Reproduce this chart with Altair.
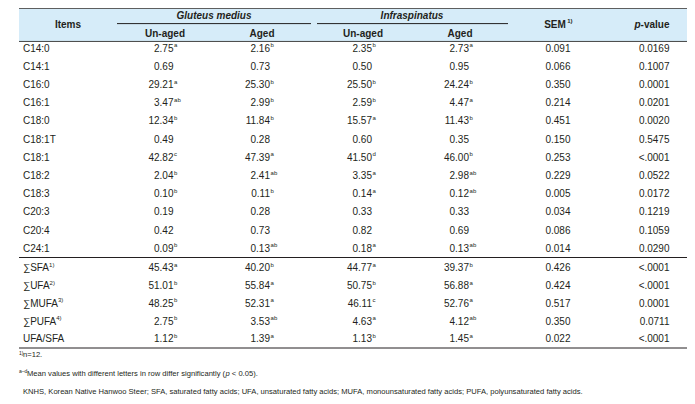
import altair as alt
import pandas as pd

# ---------------- data ----------------
items = ["C14:0", "C14:1", "C16:0", "C16:1", "C18:0", "C18:1T", "C18:1", "C18:2",
         "C18:3", "C20:3", "C20:4", "C24:1", "∑SFA", "∑UFA", "∑MUFA", "∑PUFA", "UFA/SFA"]
item_notes = ["", "", "", "", "", "", "", "", "", "", "", "", "1)", "2)", "3)", "4)", ""]

gm_unaged = ["2.75", "0.69", "29.21", "3.47", "12.34", "0.49", "42.82", "2.04", "0.10", "0.19",
             "0.42", "0.09", "45.43", "51.01", "48.25", "2.75", "1.12"]
gm_unaged_sup = ["a", "", "a", "ab", "b", "", "c", "b", "b", "", "", "b", "a", "b", "b", "b", "b"]
gm_aged = ["2.16", "0.73", "25.30", "2.99", "11.84", "0.28", "47.39", "2.41", "0.11", "0.28",
           "0.73", "0.13", "40.20", "55.84", "52.31", "3.53", "1.39"]
gm_aged_sup = ["b", "", "b", "b", "b", "", "a", "ab", "b", "", "", "ab", "b", "a", "a", "ab", "a"]
is_unaged = ["2.35", "0.50", "25.50", "2.59", "15.57", "0.60", "41.50", "3.35", "0.14", "0.33",
             "0.82", "0.18", "44.77", "50.75", "46.11", "4.63", "1.13"]
is_unaged_sup = ["b", "", "b", "b", "a", "", "d", "a", "a", "", "", "a", "a", "b", "c", "a", "b"]
is_aged = ["2.73", "0.95", "24.24", "4.47", "11.43", "0.35", "46.00", "2.98", "0.12", "0.33",
           "0.69", "0.13", "39.37", "56.88", "52.76", "4.12", "1.45"]
is_aged_sup = ["a", "", "b", "a", "b", "", "b", "ab", "ab", "", "", "ab", "b", "a", "a", "ab", "a"]
sem = ["0.091", "0.066", "0.350", "0.214", "0.451", "0.150", "0.253", "0.229", "0.005", "0.034",
       "0.086", "0.014", "0.426", "0.424", "0.517", "0.350", "0.022"]
pvalue = ["0.0169", "0.1007", "0.0001", "0.0201", "0.0020", "0.5475", "<.0001", "0.0522", "0.0172",
          "0.1219", "0.1059", "0.0290", "<.0001", "<.0001", "0.0001", "0.0711", "<.0001"]

footnote1 = "n=12."
footnote2a = "Mean values with different letters in row differ significantly ("
footnote2b = "p"
footnote2c = "< 0.05)."
footnote3 = ("KNHS, Korean Native Hanwoo Steer; SFA, saturated fatty acids; UFA, unsaturated fatty acids; "
             "MUFA, monounsaturated fatty acids; PUFA, polyunsaturated fatty acids.")

# ---------------- layout ----------------
W, H = 679, 396
FONT = "Liberation Sans, Arial, sans-serif"
INK = "#231f20"


def X(v):
    return v - 8


def Y(v):
    # header band is slightly compressed so the table starts below the page margin
    if v <= 40.5:
        return (v - 3) * 33 / 37
    return v - 8


AW = {' ': 278, '!': 278, '(': 333, ')': 333, ',': 278, '-': 333, '.': 278, '/': 278, ':': 278,
      ';': 278, '<': 584, '=': 584, '–': 556, '∑': 600}
for d in "0123456789":
    AW[d] = 556
AW.update(dict(zip("ABCDEFGHIJKLMNOPQRSTUVWXYZ",
                   [667, 667, 722, 722, 667, 611, 778, 722, 278, 500, 667, 556, 833, 722, 778, 667,
                    778, 722, 667, 611, 722, 667, 944, 667, 667, 611])))
AW.update(dict(zip("abcdefghijklmnopqrstuvwxyz",
                   [556, 556, 500, 556, 556, 278, 556, 556, 222, 222, 500, 222, 833, 556, 556, 556,
                    556, 333, 500, 278, 556, 500, 722, 500, 500, 500])))


def tw(s, size):
    return sum(AW.get(c, 556) for c in s) / 1000 * size


row_y = [48.6 + 18.2 * i for i in range(12)] + [268, 286, 303.5, 321.5, 339]
col_right = [173.5, 270, 372, 469, 570.5, 669.5]

sx = alt.Scale(domain=[0, W], range=[0, W], nice=False, zero=False)
sy = alt.Scale(domain=[0, H], range=[0, H], nice=False, zero=False)

cols = [(gm_unaged, gm_unaged_sup), (gm_aged, gm_aged_sup), (is_unaged, is_unaged_sup),
        (is_aged, is_aged_sup), (sem, [""] * 17), (pvalue, [""] * 17)]
body = []
for ci, (vals, sups) in enumerate(cols):
    for ri, (v, s) in enumerate(zip(vals, sups)):
        body.append({"x": X(col_right[ci]), "y": Y(row_y[ri]), "t": v, "s": s})
body = pd.DataFrame(body)

labels = pd.DataFrame({
    "x": [X(23)] * len(items),
    "y": [Y(v) for v in row_y],
    "t": items,
    "xs": [X(23) + tw(t, 10) + 0.6 for t in items],
    "s": item_notes,
})

FS = 7.6

# header texts
hdr = pd.DataFrame([
    {"x": X(68), "y": Y(22), "t": "Items"},
    {"x": X(165), "y": Y(32), "t": "Un-aged"},
    {"x": X(262), "y": Y(32), "t": "Aged"},
    {"x": X(363), "y": Y(32), "t": "Un-aged"},
    {"x": X(460), "y": Y(32), "t": "Aged"},
    {"x": X(555), "y": Y(22), "t": "SEM"},
])
hdr_it = pd.DataFrame([
    {"x": X(214), "y": Y(12), "t": "Gluteus medius"},
    {"x": X(412), "y": Y(12), "t": "Infraspinatus"},
])
pv_x = 652 - (611 + 2890) / 1000 * 10 / 2

rules = pd.DataFrame([
    {"x": X(19), "x2": X(690), "y": Y(3.5), "c": "#555555"},
    {"x": X(117), "x2": X(311), "y": Y(20.5), "c": "#231f20"},
    {"x": X(317), "x2": X(508), "y": Y(20.5), "c": "#231f20"},
    {"x": X(19), "x2": X(690), "y": Y(40.5), "c": "#444444"},
    {"x": X(19), "x2": X(690), "y": Y(257.5), "c": "#231f20"},
    {"x": X(19), "x2": X(690), "y": Y(348), "c": "#231f20"},
])

one = pd.DataFrame({"x": [X(19)], "x2": [X(690)], "y": [Y(3.5)], "y2": [Y(40.5)]})

bg = alt.Chart(one).mark_rect(color="#d6ecf9").encode(
    x=alt.X("x:Q", scale=sx, axis=None), x2="x2:Q",
    y=alt.Y("y:Q", scale=sy, axis=None), y2="y2:Q")

rl = alt.Chart(rules).mark_rule(strokeWidth=1).encode(
    x=alt.X("x:Q", scale=sx, axis=None), x2="x2:Q",
    y=alt.Y("y:Q", scale=sy, axis=None),
    color=alt.Color("c:N", scale=None))


def txt(df, **kw):
    base = dict(baseline="middle", font=FONT, color=INK)
    base.update(kw)
    return alt.Chart(df).mark_text(**base).encode(
        x=alt.X("x:Q", scale=sx, axis=None), y=alt.Y("y:Q", scale=sy, axis=None), text="t:N")


h1 = txt(hdr, align="center", fontSize=10, fontWeight="bold")
h2 = txt(hdr_it, align="center", fontSize=10, fontWeight="bold", fontStyle="italic")
sem_sup = txt(pd.DataFrame({"x": [X(555) + tw("SEM", 10) * 1.08 / 2 + 0.5], "y": [Y(22) - 3.5], "t": ["1)"]}),
              align="left", fontSize=6, fontWeight="bold")
pv1 = txt(pd.DataFrame({"x": [X(pv_x)], "y": [Y(22)], "t": ["p"]}), align="left", fontSize=10,
          fontWeight="bold", fontStyle="italic")
pv2 = txt(pd.DataFrame({"x": [X(pv_x + 6.11)], "y": [Y(22)], "t": ["-value"]}), align="left",
          fontSize=10, fontWeight="bold")

nums = txt(body, align="right", fontSize=10)
sups = alt.Chart(body).mark_text(align="left", baseline="middle", font=FONT, color=INK, fontSize=6,
                                 dx=0.6, dy=-3.5).encode(
    x=alt.X("x:Q", scale=sx, axis=None), y=alt.Y("y:Q", scale=sy, axis=None), text="s:N")

lab = txt(labels, align="left", fontSize=10)
lab_sup = alt.Chart(labels).mark_text(align="left", baseline="middle", font=FONT, color=INK,
                                      fontSize=6, dy=-3.5).encode(
    x=alt.X("xs:Q", scale=sx, axis=None), y=alt.Y("y:Q", scale=sy, axis=None), text="s:N")

fy1, fy2, fy3 = Y(355), Y(373.5), Y(391.5)
x2b = 27 + tw(footnote2a, FS)
fn = txt(pd.DataFrame([
    {"x": X(23), "y": fy1, "t": footnote1},
    {"x": X(27), "y": fy2, "t": footnote2a},
    {"x": X(x2b + tw("p ", FS)), "y": fy2, "t": footnote2c},
    {"x": X(23), "y": fy3, "t": footnote3},
]), align="left", fontSize=FS)
fn_it = txt(pd.DataFrame([{"x": X(x2b), "y": fy2, "t": footnote2b}]), align="left", fontSize=FS,
            fontStyle="italic")
fn_sup = txt(pd.DataFrame([
    {"x": X(19), "y": fy1 - 2.5, "t": "1)"},
    {"x": X(19), "y": fy2 - 2.5, "t": "a–d"},
]), align="left", fontSize=5)

chart = alt.layer(bg, rl, h1, h2, sem_sup, pv1, pv2, nums, sups, lab, lab_sup, fn, fn_it, fn_sup).properties(
    width=W, height=H, autosize="none", padding=0, background="white"
).configure_view(stroke=None)

chart.save("out.html", embed_options={"renderer": "svg", "actions": False})
